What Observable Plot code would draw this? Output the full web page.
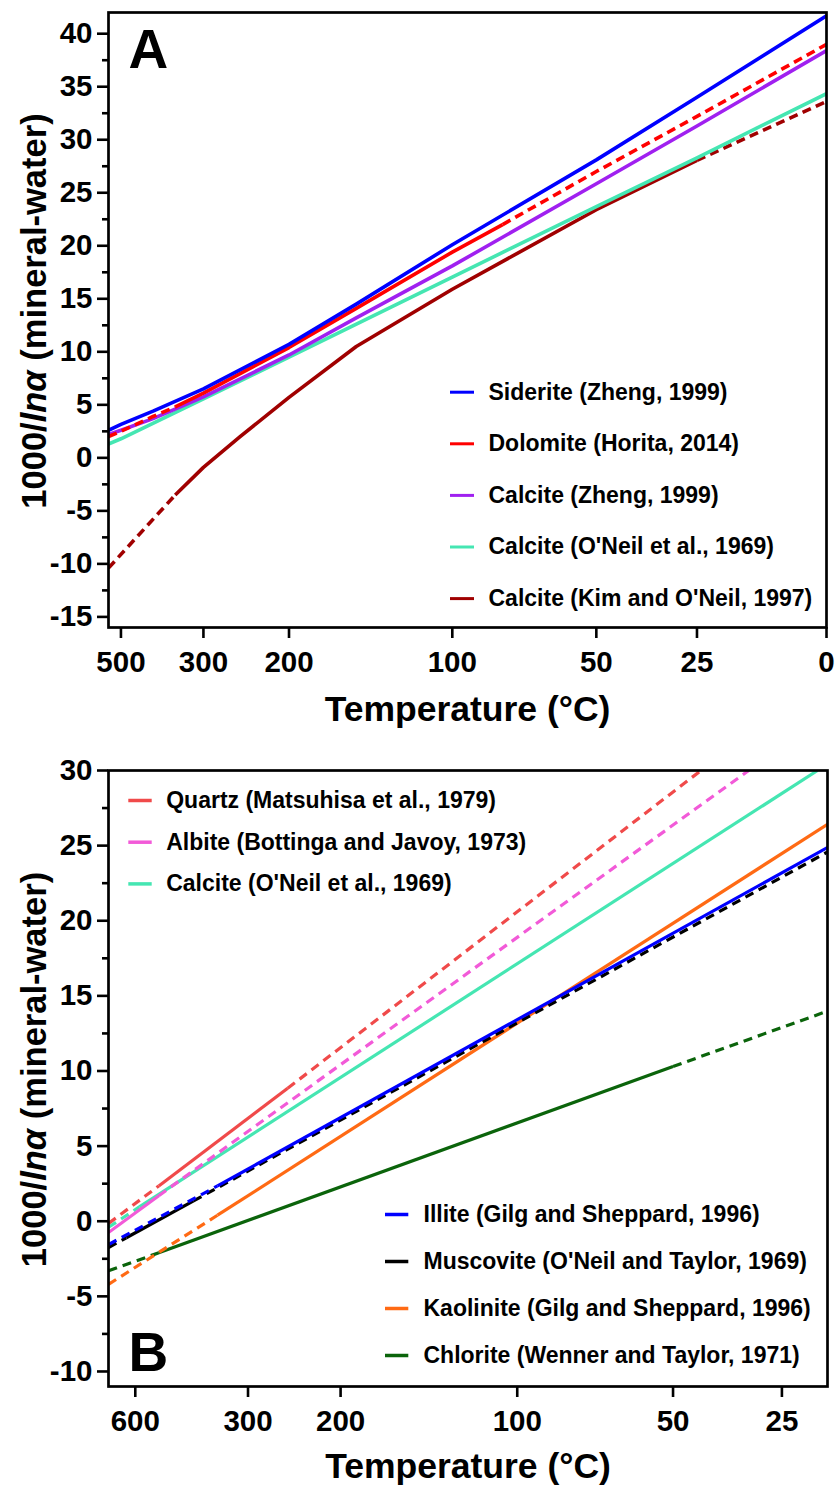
<!DOCTYPE html>
<html><head><meta charset="utf-8">
<script src="https://cdn.jsdelivr.net/npm/d3@7"></script>
<script src="https://cdn.jsdelivr.net/npm/@observablehq/plot@0.6"></script>
<style>
html,body{margin:0;padding:0;background:#fff;}
#chart{width:838px;}
#chart svg{display:block;}
</style></head><body><div id="chart"></div>
<script>
// ---------- Panel A data (temperature °C, 1000 ln α) ----------
const tickTempsA = [500, 300, 200, 100, 50, 25, 0];
const yTicksA = [-15, -10, -5, 0, 5, 10, 15, 20, 25, 30, 35, 40];
const yMinorA = [-12.5, -7.5, -2.5, 2.5, 7.5, 12.5, 17.5, 22.5, 27.5, 32.5, 37.5];
const namesA = ["Siderite (Zheng, 1999)", "Dolomite (Horita, 2014)", "Calcite (Zheng, 1999)", "Calcite (O'Neil et al., 1969)", "Calcite (Kim and O'Neil, 1997)"];
const sideriteT = [553, 500, 400, 300, 200, 150, 100, 50, 25, 0];
const sideriteY = [2.6, 3.15, 4.4, 6.5, 10.7, 14.5, 20.1, 28.1, 34.0, 41.7];
const dolomiteT = [553, 500, 400, 350, 300, 200, 150, 100, 80, 50, 25, 0];
const dolomiteY = [2.0, 2.5, 3.9, 4.8, 6.1, 10.4, 14.1, 19.4, 22.0, 27.0, 32.2, 39.0];
const calciteZhengT = [553, 500, 400, 300, 200, 150, 100, 50, 25, 0];
const calciteZhengY = [2.2, 2.6, 3.7, 5.75, 9.7, 13.2, 18.1, 25.85, 31.3, 38.4];
const calciteONeilAT = [553, 500, 300, 200, 100, 50, 25, 0];
const calciteONeilAY = [1.3, 1.8, 5.55, 9.5, 17.05, 23.7, 28.3, 34.35];
const calciteKimT = [553, 350, 300, 250, 200, 150, 100, 50, 25, 0];
const calciteKimY = [-10.4, -3.5, -0.9, 2.0, 5.7, 10.5, 15.9, 23.4, 28.05, 33.6];
// calibrated (solid) temperature ranges [high, low]
const solidA = [[Infinity, -Infinity], [350, 80], [Infinity, -Infinity], [Infinity, -Infinity], [350, 25]];
const colorsA = ["#0000FF", "#FF0000", "#A020F0", "#45E6B2", "#A00000"];

// ---------- Panel B data ----------
const tickTempsB = [600, 300, 200, 100, 50, 25];
const yTicksB = [-10, -5, 0, 5, 10, 15, 20, 25, 30];
const yMinorB = [-7.5, -2.5, 2.5, 7.5, 12.5, 17.5, 22.5, 27.5];
const namesB = ["Quartz (Matsuhisa et al., 1979)", "Albite (Bottinga and Javoy, 1973)", "Calcite (O'Neil et al., 1969)", "Illite (Gilg and Sheppard, 1996)", "Muscovite (O'Neil and Taylor, 1969)", "Kaolinite (Gilg and Sheppard, 1996)", "Chlorite (Wenner and Taylor, 1971)"];
const quartzT = [781, 500, 250, 43];
const quartzY = [-0.15, 2.35, 8.85, 30.0];
const albiteT = [781, 500, 32];
const albiteY = [-0.75, 1.7, 30.0];
const calciteBT = [781, 580, 18];
const calciteBY = [-0.4, 0.95, 30.0];
const illiteT = [781, 350, 16];
const illiteY = [-1.55, 2.35, 24.9];
const muscoviteT = [781, 650, 400, 16];
const muscoviteY = [-1.75, -1.1, 1.35, 24.6];
const kaoliniteT = [781, 350, 16];
const kaoliniteY = [-4.2, 0.4, 26.45];
const chloriteT = [781, 500, 50, 16];
const chloriteY = [-3.3, -2.1, 10.3, 14.0];
const solidB = [[500, 250], [781, 500], [580, -Infinity], [350, -Infinity], [650, 400], [350, -Infinity], [500, 50]];
const colorsB = ["#F04A4A", "#F25AD8", "#45E6B2", "#0000FF", "#000000", "#FF6A14", "#0B640B"];

const toX = t => 1e6 / ((t + 273.15) ** 2);   // 10^6/T^2 (T in K)
const W = 838, H = 744;
const FONT = "'Liberation Sans', Arial, Helvetica, sans-serif";
const yTitle = "1000/lnα (mineral-water)";

function panel(p) {
  const plotW = W - p.ml - p.mr, plotH = H - p.mt - p.mb;
  const sx = px => p.xDomain[0] + (px - p.ml) / plotW * (p.xDomain[1] - p.xDomain[0]);
  const sy = py => p.yDomain[1] - (py - p.mt) / plotH * (p.yDomain[1] - p.yDomain[0]);
  const marks = [];
  for (let k = p.order.length - 1; k >= 0; k--) {
    const i = p.order[k];
    const pts = p.T[i].map((t, j) => ({t, x: toX(t), y: p.Y[i][j]}));
    const [hi, lo] = p.solid[i];
    const parts = [
      {pts: pts.filter(d => d.t >= hi), dash: true},
      {pts: pts.filter(d => d.t <= hi && d.t >= lo), dash: false},
      {pts: pts.filter(d => d.t <= lo), dash: true}
    ];
    for (const part of parts) {
      if (part.pts.length < 2) continue;
      const opts = {x: "x", y: "y", stroke: p.colors[i], strokeWidth: p.lw, clip: true, strokeLinecap: "butt"};
      if (part.dash) opts.strokeDasharray = p.dash;
      marks.push(Plot.line(part.pts, opts));
    }
  }
  for (const lg of p.legends) {
    lg.items.forEach((i, k) => {
      const yy = sy(lg.py + k * lg.step);
      marks.push(Plot.ruleY([yy], {x1: sx(lg.sw[0]), x2: sx(lg.sw[1]), stroke: p.colors[i], strokeWidth: lg.sww}));
      marks.push(Plot.text([p.names[i]], {x: sx(lg.tx), y: yy, text: d => d, textAnchor: "start", lineAnchor: "middle", fontSize: 23, fontWeight: "bold", fill: "#000"}));
    });
  }
  marks.push(Plot.frame({stroke: "#000", strokeWidth: 2.7}));
  marks.push(Plot.axisY(p.yTicks, {tickSize: 11, tickPadding: 5, tickFormat: d => String(d), fontSize: 29.5, fontWeight: "bold", strokeWidth: 2.6, label: null}));
  marks.push(Plot.axisY(p.yMinor, {tickSize: 6, tickFormat: () => "", strokeWidth: 2.6, label: null}));
  const xt = p.tickTemps.map(toX);
  marks.push(Plot.axisX(xt, {tickSize: 11, tickPadding: 12.5, tickFormat: v => String(p.tickTemps[xt.findIndex(u => Math.abs(u - v) < 1e-9)]), fontSize: 29.5, fontWeight: "bold", strokeWidth: 2.6, label: null}));
  marks.push(Plot.text(["Temperature (°C)"], {frameAnchor: "bottom", text: d => d, dy: p.xTitleDy, lineAnchor: "bottom", textAnchor: "middle", fontSize: 35.5, fontWeight: "bold", fill: "#000"}));
  marks.push(Plot.text([yTitle], {frameAnchor: "left", text: d => d, rotate: -90, lineAnchor: "bottom", textAnchor: "middle", dx: -63, dy: -9, fontSize: 34.5, fontWeight: "bold", fill: "#000"}));
  marks.push(Plot.text([p.label], {frameAnchor: p.labelAnchor, text: d => d, dx: p.labelDx, dy: p.labelDy, lineAnchor: p.labelLine, textAnchor: "start", fontSize: 55, fontWeight: "bold", fill: "#000"}));

  const svg = Plot.plot({
    width: W, height: H,
    marginLeft: p.ml, marginRight: p.mr, marginTop: p.mt, marginBottom: p.mb,
    style: {fontFamily: FONT, fontSize: "29.5px", fontWeight: "bold", background: "#fff", color: "#000"},
    x: {type: "linear", domain: p.xDomain},
    y: {type: "linear", domain: p.yDomain},
    marks
  });
  svg.querySelectorAll("text").forEach(el => {
    if (el.textContent === yTitle) {
      el.textContent = "";
      const parts = [["1000/", "normal"], ["lnα", "italic"], [" (mineral-water)", "normal"]];
      for (const [s, st] of parts) {
        const ts = document.createElementNS("http://www.w3.org/2000/svg", "tspan");
        ts.setAttribute("font-style", st);
        ts.textContent = s;
        el.appendChild(ts);
      }
    }
  });
  return svg;
}

const A = panel({
  ml: 108, mr: 12, mt: 12, mb: 117,
  xDomain: [1.466, 13.4027], yDomain: [-16, 42],
  names: namesA, colors: colorsA, solid: solidA, order: [0, 1, 2, 3, 4],
  T: [sideriteT, dolomiteT, calciteZhengT, calciteONeilAT, calciteKimT],
  Y: [sideriteY, dolomiteY, calciteZhengY, calciteONeilAY, calciteKimY],
  lw: 3.6, dash: "9,5.5",
  yTicks: yTicksA, yMinor: yMinorA, tickTemps: tickTempsA,
  legends: [{items: [0, 1, 2, 3, 4], py: 391.7, step: 51.6, sw: [450, 474], sww: 3, tx: 488}],
  xTitleDy: 93, label: "A", labelAnchor: "top-left", labelDx: 20, labelDy: 16.5, labelLine: "top"
});
const B = panel({
  ml: 108, mr: 11, mt: 26, mb: 102,
  xDomain: [0.9, 11.95], yDomain: [-11, 30],
  names: namesB, colors: colorsB, solid: solidB, order: [0, 1, 2, 3, 4, 5, 6],
  T: [quartzT, albiteT, calciteBT, illiteT, muscoviteT, kaoliniteT, chloriteT],
  Y: [quartzY, albiteY, calciteBY, illiteY, muscoviteY, kaoliniteY, chloriteY],
  lw: 3.2, dash: "9,6",
  yTicks: yTicksB, yMinor: yMinorB, tickTemps: tickTempsB,
  legends: [
    {items: [0, 1, 2], py: 800 - 744, step: 41.7, sw: [128.3, 151.7], sww: 3.5, tx: 165.7},
    {items: [3, 4, 5, 6], py: 1214 - 744, step: 47, sw: [385, 408.3], sww: 3.5, tx: 423}
  ],
  xTitleDy: 91, label: "B", labelAnchor: "bottom-left", labelDx: 20, labelDy: -16, labelLine: "bottom"
});
document.getElementById("chart").append(A, B);
</script></body></html>
